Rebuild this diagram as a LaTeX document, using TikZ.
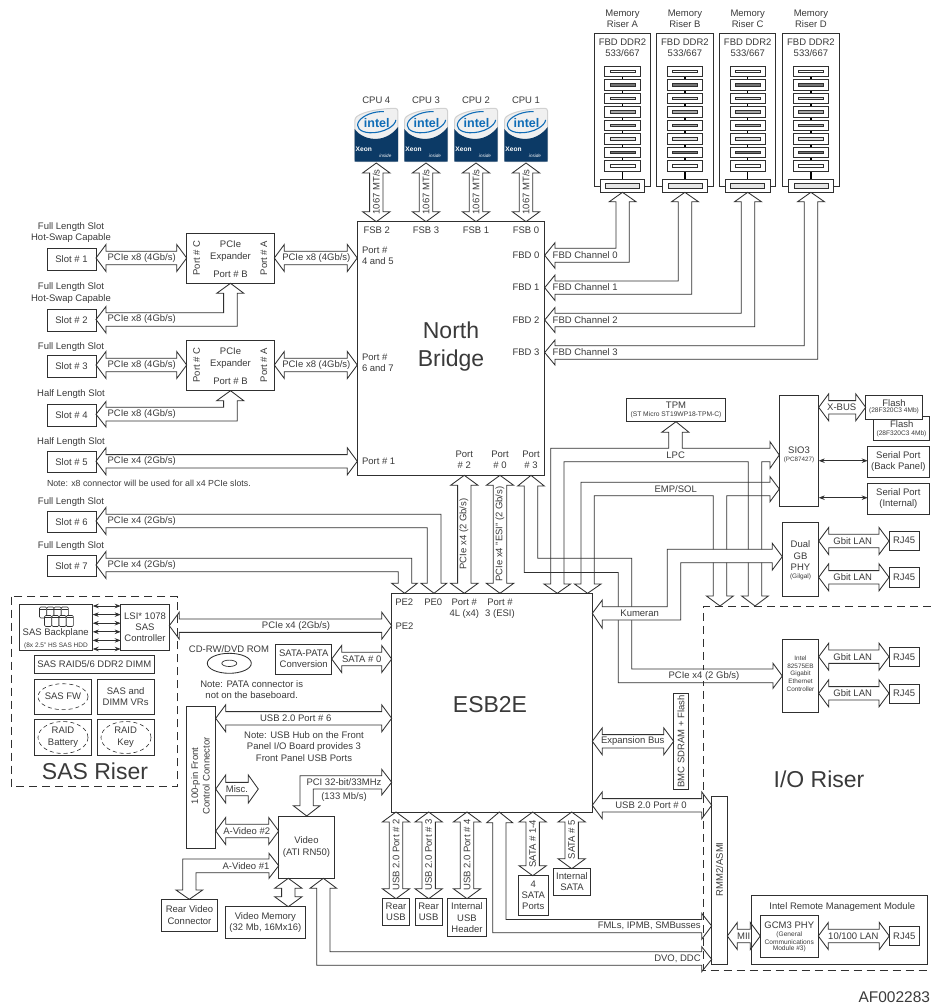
\documentclass[tikz,border=0pt]{standalone}
\usepackage{fontspec}
\setmainfont{Liberation Sans}
\usetikzlibrary{calc,arrows.meta}
\definecolor{lc}{HTML}{303030}
\definecolor{tc}{HTML}{3A3A3A}
\definecolor{xblue}{HTML}{0C3A66}
\definecolor{iblue}{HTML}{0F6CB6}
\newcommand\fs[1]{\fontsize{#1}{\dimexpr #1pt*6/5\relax}\selectfont}
\tikzset{
  x=1pt,y=-1pt,
  blk/.style={draw=lc,line width=.85pt,miter limit=4},
  box/.style={draw=lc,line width=.85pt,rectangle,inner sep=0,outer sep=0,align=center,text=tc,font=\fs{9.5}},
  tx/.style={inner sep=0,outer sep=0,align=center,text=tc,font=\fs{9.5}},
  thin2/.style={draw=lc,line width=.8pt,{Stealth[length=6pt,width=4.5pt]}-{Stealth[length=6pt,width=4.5pt]}},
  dash2/.style={draw=lc,line width=.95pt,dash pattern=on 8pt off 5pt},
  dash3/.style={draw=lc,line width=.6pt,dash pattern=on 4pt off 3pt},
  mod/.style={draw=lc,line width=.8pt,fill=white}
}
\newcounter{lb}
\newcommand\lbl[4][]{\stepcounter{lb}\node[tx,#1] (lb\thelb) at (#2,#3) {#4};}
\newcommand\bxn[6]{\pgfmathsetmacro\bcx{(#2+#4)/2}\pgfmathsetmacro\bcy{(#3+#5)/2}%
  \pgfmathsetmacro\bww{#4-#2}\pgfmathsetmacro\bhh{#5-#3}%
  \node[box,fill=white,minimum width=\bww pt,minimum height=\bhh pt] (#1) at (\bcx,\bcy) {#6};}
\newcommand\ArrH[3]{\draw[blk] let \p1=(#1|-0,#3),\p2=(#2|-0,#3) in (\p1) -- (\x1+10pt,\y1+13.5pt) -- (\x1+10pt,\y1+6.7pt) -- (\x2-10pt,\y1+6.7pt) -- (\x2-10pt,\y1+13.5pt) -- (\p2) -- (\x2-10pt,\y1-13.5pt) -- (\x2-10pt,\y1-6.7pt) -- (\x1+10pt,\y1-6.7pt) -- (\x1+10pt,\y1-13.5pt) -- cycle;}
\newcommand\ArrV[3]{\draw[blk] let \p1=(#3,0|-#1),\p2=(#3,0|-#2) in (\p1) -- (\x1+13.7pt,\y1-10pt) -- (\x1+6.7pt,\y1-10pt) -- (\x1+6.7pt,\y2+10pt) -- (\x1+13.7pt,\y2+10pt) -- (\p2) -- (\x1-13.7pt,\y2+10pt) -- (\x1-6.7pt,\y2+10pt) -- (\x1-6.7pt,\y1-10pt) -- (\x1-13.7pt,\y1-10pt) -- cycle;}
\newcommand\cpulogo[3]{%
  \pgfmathsetmacro\lc{#2}%
  \node[inner sep=0,outer sep=0,minimum width=43.4pt,minimum height=55pt] (#1) at (\lc,135.5) {};
  \fill[white!94!black,draw=black!18,line width=1pt,rounded corners=2.5pt] (\lc-21.5,161.5) -- (\lc-21.5,118) .. controls (\lc-12,111) and (\lc+5,108.5) .. (\lc+21.5,108.3) -- (\lc+21.5,161.5) -- cycle;
  \fill[xblue] (\lc-21.7,161.7) -- (\lc-21.7,129) .. controls (\lc-14,140) and (\lc+8,145) .. (\lc+21.7,127) -- (\lc+21.7,161.7) -- cycle;
  \draw[iblue,line width=1.1pt,rotate around={12:(\lc,124)}] (\lc+10,113.5) arc (-62:-350:19.5 and 10);
  \node[inner sep=0,text=iblue,font=\fontsize{12.5}{13}\selectfont\bfseries] (#1i) at (\lc+.5,123.5) {intel};
  \node[inner sep=0,text=white,font=\fontsize{6.6}{7}\selectfont\bfseries] (#1x) at (\lc-12.5,149) {Xeon};
  \node[inner sep=0,text=white,font=\fontsize{4.6}{5}\selectfont\itshape] (#1s) at (\lc+9,156) {inside};
  \lbl{\lc}{100}{CPU #3}
}
\begin{document}
\begin{tikzpicture}
\useasboundingbox (0,0) rectangle (931,1005);
% ===== main blocks
\bxn{NB}{357.3}{221.7}{544.7}{475.3}{}
\bxn{ESB}{391.7}{593.3}{592.3}{812}{}
% slots
\bxn{s1}{47}{248.3}{96}{270}{Slot \# 1}
\bxn{s2}{47}{309.3}{96}{331}{Slot \# 2}
\bxn{s3}{47}{355.3}{96}{377.3}{Slot \# 3}
\bxn{s4}{47}{404.7}{96}{426}{Slot \# 4}
\bxn{s5}{47}{451.7}{96}{472.7}{Slot \# 5}
\bxn{s6}{47}{511.3}{96}{532.7}{Slot \# 6}
\bxn{s7}{47}{555.7}{96}{576.7}{Slot \# 7}
\bxn{exa}{186.7}{233.3}{274.3}{283.3}{}
\bxn{exb}{186.7}{340.7}{274.3}{390.7}{}
% right column
\bxn{tpm}{626.7}{398.3}{725.3}{421.7}{}
\bxn{sio}{779.3}{395.7}{818.7}{506.7}{}
\bxn{flashb}{873.3}{416}{929}{440.7}{}
\bxn{flasha}{865.7}{395.7}{922.3}{419}{}
\bxn{serb}{867.7}{446}{929}{477.3}{Serial Port\\(Back Panel)}
\bxn{seri}{867.7}{483.3}{929}{514.3}{Serial Port\\(Internal)}
\bxn{dual}{782.3}{522.7}{818.7}{596}{}
\bxn{rja}{889}{531}{919.3}{550}{RJ45}
\bxn{rjb}{889}{567.7}{919.3}{587.7}{RJ45}
\bxn{intel}{782.3}{639}{818.7}{712.3}{}
\bxn{rjc}{889}{647.7}{919.3}{666}{RJ45}
\bxn{rjd}{889}{684}{919.3}{703.3}{RJ45}
\bxn{bmc}{673.7}{693.3}{688.3}{789.3}{}
\bxn{rmm}{711.7}{796.7}{727.3}{964.3}{}
\bxn{irmm}{751.7}{895}{927.7}{964.3}{}
\bxn{gcm}{760.3}{915.7}{818.3}{957.7}{}
\bxn{rje}{889.3}{926.7}{919.3}{945}{RJ45}
% bottom
\bxn{sata4}{518.3}{875.7}{548.3}{915}{4\\SATA\\Ports}
\bxn{satai}{553.3}{868.7}{590.7}{895}{Internal\\SATA}
\bxn{rua}{382.7}{898.7}{409.3}{925.3}{Rear\\USB}
\bxn{rub}{415}{898.7}{442.3}{925.3}{Rear\\USB}
\bxn{ruh}{447.3}{898.7}{486.7}{936.7}{Internal\\USB\\Header}
\bxn{video}{278.7}{816}{334.3}{878.3}{Video\\(ATI RN50)}
\bxn{fpc}{186.7}{706}{215.7}{848.3}{}
\bxn{rvc}{161.7}{899.3}{217.3}{931}{Rear Video\\Connector}
\bxn{vmem}{225}{906.7}{305.7}{938.7}{Video Memory\\(32 Mb, 16Mx16)}
% SAS riser
\bxn{back}{19}{604.3}{92.7}{650}{}
\bxn{lsi}{120.7}{604.3}{169.3}{650}{LSI* 1078\\SAS\\Controller}
\bxn{raid}{34.3}{655}{154.3}{673.3}{SAS RAID5/6 DDR2 DIMM}
\bxn{sasfw}{34.3}{679}{91.7}{714.3}{SAS FW}
\bxn{vrs}{97}{679}{154.3}{714.3}{SAS and\\DIMM VRs}
\bxn{batt}{34.3}{719.7}{91.7}{755}{RAID\\Battery}
\bxn{rkey}{97}{719.7}{154.3}{755}{RAID\\Key}
\bxn{satap}{275.7}{644}{331.7}{674}{SATA-PATA\\Conversion}
\draw[dash3] (63,696.7) ellipse (25 and 13);
\draw[dash3] (63,737.5) ellipse (25 and 16);
\draw[dash3] (126,737.5) ellipse (25 and 16);
\draw[dash2] (11,596.7) rectangle (177.7,786.7);
\draw[dash2] (931,606) -- (703.8,606) -- (703.8,970) -- (931,970);
% disc
\draw[draw=lc,line width=.85pt] (229.3,663.3) ellipse (22 and 10);
\draw[draw=lc,line width=.7pt] (229.3,663.3) ellipse (7.5 and 3.2);
% HDD icon
\foreach \xx/\yy in {39.5/607,46.8/607,54/607,61.2/607,44.5/615.5,51.8/615.5,59/615.5,66.2/615.5}{
  \draw[draw=lc,line width=.6pt,fill=white,rounded corners=1.2pt] (\xx,\yy) rectangle ++(7.2,11);
  \draw[draw=lc,line width=.5pt] (\xx+.3,\yy+1.8) -- ++(6.6,0);
}
% memory risers
\foreach \cx/\rn/\rl in {622.5/A/A,684.9/B/B,747.7/C/C,810.9/D/D}{
  \pgfmathsetmacro\xa{\cx-28.2}\pgfmathsetmacro\xb{\cx+28.2}
  \bxn{ris\rn}{\xa}{33.3}{\xb}{186}{}
  \lbl{\cx}{19}{Memory\\Riser \rl}
  \lbl{\cx}{48}{FBD DDR2\\533/667}
  \draw[draw=black,line width=1.4pt] (\cx,70) -- (\cx,179);
  \foreach \i/\gc in {0/white,1/black!55,2/black!12,3/black!35,4/black!35,5/black!12,6/black!55,7/white}{
    \pgfmathsetmacro\my{71.3+13.5*\i}
    \draw[mod] (\cx-17.7,\my-5.3) rectangle (\cx+17.7,\my+5.3);
    \draw[draw=lc,line width=.8pt,fill=\gc] (\cx-12.5,\my-1.4) rectangle (\cx+12.5,\my+1.4);
  }
  \pgfmathsetmacro\xc{\cx-22.3}\pgfmathsetmacro\xd{\cx+22.3}
  \bxn{con\rn}{\xc}{179}{\xd}{192.3}{}
  \draw[draw=lc,line width=.8pt,fill=black!10] (\cx-17,183) rectangle (\cx+17,188.3);
}
% CPUs
\cpulogo{cpuD}{376.3}{4}
\cpulogo{cpuC}{426}{3}
\cpulogo{cpuB}{476}{2}
\cpulogo{cpuA}{526}{1}
% ===== arrows
\ArrV{cpuD.south}{NB.north}{376.3}
\ArrV{cpuC.south}{NB.north}{426}
\ArrV{cpuB.south}{NB.north}{476}
\ArrV{cpuA.south}{NB.north}{526}
\ArrH{s1.east}{exa.west}{258}
\ArrH{exa.east}{NB.west}{258}
\ArrH{s3.east}{exb.west}{365}
\ArrH{exb.east}{NB.west}{365}
\ArrH{s5.east}{NB.west}{461.3}
\draw[blk] (s2.east|-0,319.5) -- (106,306.5) -- (106,312.7) -- (223.6,312.7) -- (223.6,293.3) -- (216.7,293.3) -- (exa.south) -- (243.8,293.3) -- (237.3,293.3) -- (237.3,326.3) -- (106,326.3) -- (106,333) -- cycle;
\draw[blk] (s4.east|-0,414.3) -- (106,401.5) -- (106,407.3) -- (223.6,407.3) -- (223.6,400.7) -- (216.7,400.7) -- (exb.south) -- (243.8,400.7) -- (237.3,400.7) -- (237.3,421) -- (106,421) -- (106,427) -- cycle;
\draw[blk] (s6.east|-0,521) -- (106,507.5) -- (106,514.3) -- (441,514.3) -- (441,583.3) -- (446.7,583.3) -- (434,0|-ESB.north) -- (421,583.3) -- (427.3,583.3) -- (427.3,527.7) -- (106,527.7) -- (106,534.5) -- cycle;
\draw[blk] (s7.east|-0,565) -- (106,551.5) -- (106,558.3) -- (411.7,558.3) -- (411.7,583.3) -- (417.3,583.3) -- (404.6,0|-ESB.north) -- (391.7,583.3) -- (398.3,583.3) -- (398.3,571.7) -- (106,571.7) -- (106,578.5) -- cycle;
% NB - ESB
\ArrV{NB.south}{ESB.north}{464.3}
\ArrV{NB.south}{ESB.north}{500}
% FBD channels
\draw[blk] (NB.east|-0,255.3) -- (555,242.7) -- (555,248.3) -- (616,248.3) -- (616,201.7) -- (609.3,201.7) -- (conA.south) -- (636,201.7) -- (629.3,201.7) -- (629.3,262.3) -- (555,262.3) -- (555,268.3) -- cycle;
\draw[blk] (NB.east|-0,287.7) -- (555,275) -- (555,281) -- (678.3,281) -- (678.3,201.7) -- (671.6,201.7) -- (conB.south) -- (698.4,201.7) -- (691.7,201.7) -- (691.7,294.3) -- (555,294.3) -- (555,300.5) -- cycle;
\draw[blk] (NB.east|-0,320) -- (555,307.5) -- (555,313.3) -- (741.3,313.3) -- (741.3,201.7) -- (734.6,201.7) -- (conC.south) -- (761.4,201.7) -- (754.7,201.7) -- (754.7,326.7) -- (555,326.7) -- (555,332.5) -- cycle;
\draw[blk] (NB.east|-0,352.5) -- (555,340) -- (555,345.7) -- (804.3,345.7) -- (804.3,201.7) -- (797.6,201.7) -- (conD.south) -- (824.4,201.7) -- (817.7,201.7) -- (817.7,359.3) -- (555,359.3) -- (555,365) -- cycle;
% LPC
\draw[blk] (tpm.south) -- (689,432.3) -- (682.3,432.3) -- (682.3,448.3) -- (770,448.3) -- (770,441.7) -- (sio.west|-0,455) -- (770,468.3) -- (770,461.7) -- (761.7,461.7) -- (761.7,596) -- (768.3,596) -- (755,606) -- (741.7,596) -- (748.3,596) -- (748.3,461.7) -- (564,461.7) -- (564,584) -- (570.5,584) -- (557.3,0|-ESB.north) -- (544,584) -- (550.7,584) -- (550.7,448.3) -- (668.7,448.3) -- (668.7,432.3) -- (661.7,432.3) -- cycle;
% EMP/SOL
\draw[blk] (581,482.3) -- (770,482.3) -- (770,476.7) -- (sio.west|-0,489) -- (770,501.7) -- (770,495.7) -- (726.7,495.7) -- (726.7,596) -- (733.3,596) -- (720,606) -- (706.5,596) -- (713.3,596) -- (713.3,495.7) -- (594.3,495.7) -- (594.3,584) -- (601,584) -- (587.6,0|-ESB.north) -- (574.5,584) -- (581,584) -- cycle;
% Port 3 / PCIe x4 to Intel
\draw[blk] (531,0|-NB.south) -- (544.3,486) -- (537.7,486) -- (537.7,558.3) -- (631.7,558.3) -- (631.7,669) -- (773,669) -- (773,663.3) -- (intel.west|-0,676) -- (773,688.3) -- (773,682.7) -- (618.3,682.7) -- (618.3,572.5) -- (524.3,572.5) -- (524.3,486) -- (517.7,486) -- cycle;
% Kumeran
\draw[blk,fill=white] (ESB.east|-0,613.3) -- (602.3,600) -- (602.3,606.7) -- (667.3,606.7) -- (667.3,549.3) -- (772.3,549.3) -- (772.3,543.3) -- (dual.west|-0,556.7) -- (772.3,570) -- (772.3,562.7) -- (680.7,562.7) -- (680.7,620) -- (602.3,620) -- (602.3,628.3) -- cycle;
% LAN
\ArrH{dual.east}{rja.west}{541}
\ArrH{dual.east}{rjb.west}{577.3}
\ArrH{intel.east}{rjc.west}{656.7}
\ArrH{intel.east}{rjd.west}{693.3}
\ArrH{sio.east}{flasha.west}{407.3}
\draw[thin2] (sio.east|-0,460.7) -- (serb.west|-0,460.7);
\draw[thin2] (sio.east|-0,497.7) -- (seri.west|-0,497.7);
% ESB right side
\ArrH{ESB.east}{bmc.west}{741.3}
\ArrH{ESB.east}{rmm.west}{805.3}
\draw[blk] (499.3,0|-ESB.south) -- (512.7,822.7) -- (506,822.7) -- (506,919.5) -- (701.7,919.5) -- (701.7,913.3) -- (rmm.west|-0,926) -- (701.7,939.3) -- (701.7,932.8) -- (492.7,932.8) -- (492.7,822.7) -- (486.7,822.7) -- cycle;
\draw[blk] (323.3,0|-video.south) -- (336.7,888.3) -- (330,888.3) -- (330,951.7) -- (701.7,951.7) -- (701.7,946.7) -- (rmm.west|-0,959.3) -- (701.7,971.7) -- (701.7,965.3) -- (316.7,965.3) -- (316.7,888.3) -- (310,888.3) -- cycle;
\ArrH{rmm.east}{gcm.west}{936}
\ArrH{gcm.east}{rje.west}{936}
% ESB bottom
\ArrV{ESB.south}{rua.north}{396}
\ArrV{ESB.south}{rub.north}{428.7}
\ArrV{ESB.south}{ruh.north}{467}
\ArrV{ESB.south}{sata4.north}{532.7}
\ArrV{ESB.south}{satai.north}{571.7}
% ESB left side
\ArrH{lsi.east}{ESB.west}{625.7}
\ArrH{satap.east}{ESB.west}{659}
\ArrH{fpc.east}{ESB.west}{718.3}
\ArrH{fpc.east}{video.west}{831}
\draw[blk] (fpc.east|-0,789) -- (225.7,775) -- (225.7,782.4) -- (248.3,782.4) -- (248.3,775) -- (258.3,789) -- (248.3,803) -- (248.3,795.8) -- (225.7,795.8) -- (225.7,803) -- cycle;
\draw[blk] (ESB.west|-0,782.3) -- (381.7,769.3) -- (381.7,775.7) -- (300,775.7) -- (300,805.7) -- (293.3,805.7) -- (306.7,0|-video.north) -- (320,805.7) -- (313.3,805.7) -- (313.3,789) -- (381.7,789) -- (381.7,795) -- cycle;
\draw[blk] (video.west|-0,865.7) -- (269,853.3) -- (269,859) -- (182.7,859) -- (182.7,890) -- (176,890) -- (189.3,0|-rvc.north) -- (202.7,890) -- (196,890) -- (196,872.7) -- (269,872.7) -- (269,878.3) -- cycle;
\ArrV{video.south}{vmem.north}{288.3}
\foreach \yy in {606,614.6,623.2,631.8,640.4,649}{\draw[thin2] (back.east|-0,\yy) -- (lsi.west|-0,\yy);}
% ===== labels
\lbl{71}{226.7}{Full Length Slot}
\lbl{71}{238.3}{Hot-Swap Capable}
\lbl{71}{287.3}{Full Length Slot}
\lbl{71}{298.6}{Hot-Swap Capable}
\lbl{71}{346.7}{Full Length Slot}
\lbl{71}{394.3}{Half Length Slot}
\lbl{71}{442.3}{Half Length Slot}
\lbl{71}{502.3}{Full Length Slot}
\lbl{71}{546}{Full Length Slot}
\lbl[anchor=west,font=\fs{8.8}]{47}{483.3}{Note: x8 connector will be used for all x4 PCIe slots.}
\foreach \za/\zb/\zc/\zd in {244.3/256.7/274/258,351.7/363.8/381.2/365}{
  \lbl{230.5}{\za}{PCIe}
  \lbl{230.5}{\zb}{Expander}
  \lbl{230.5}{\zc}{Port \# B}
  \lbl[rotate=90]{196.7}{\zd}{Port \# C}
  \lbl[rotate=90]{264}{\zd}{Port \# A}
}
\foreach \yy in {258,319.5,365,414.3}{\lbl{141.7}{\yy}{PCIe x8 (4Gb/s)}}
\lbl{316.3}{258}{PCIe x8 (4Gb/s)}
\lbl{316.3}{365}{PCIe x8 (4Gb/s)}
\foreach \yy in {461,521,565}{\lbl{141.7}{\yy}{PCIe x4 (2Gb/s)}}
% NB labels
\lbl{376.7}{230}{FSB 2}
\lbl{426}{230}{FSB 3}
\lbl{476}{230}{FSB 1}
\lbl{526}{230}{FSB 0}
\foreach \xx in {376.3,426,476,526}{\lbl[rotate=90]{\xx}{192}{1067 MT/s}}
\lbl[anchor=north west,align=left]{362}{247}{Port \#\\4 and 5}
\lbl[anchor=north west,align=left]{362}{353.5}{Port \#\\6 and 7}
\lbl[anchor=west]{362}{461}{Port \# 1}
\foreach \yy/\nn in {255/0,287.5/1,320/2,352.5/3}{
  \lbl[anchor=east]{539.5}{\yy}{FBD \nn}
  \lbl[anchor=west]{552.7}{\yy}{FBD Channel \nn}
}
\lbl[font=\fs{23}]{451}{330}{North}
\lbl[font=\fs{23}]{451}{361}{Bridge}
\lbl{464.3}{459.5}{Port\\\# 2}
\lbl{500}{459.5}{Port\\\# 0}
\lbl{531}{459.5}{Port\\\# 3}
\lbl[rotate=90]{464}{534}{PCIe x4 (2 Gb/s)}
\lbl[rotate=90]{500}{534}{PCIe x4 "ESI" (2 Gb/s)}
% ESB labels
\lbl{404.3}{602.5}{PE2}
\lbl{433.3}{602.5}{PE0}
\lbl{464.3}{608.5}{Port \#\\4L (x4)}
\lbl{500}{608.5}{Port \#\\3 (ESI)}
\lbl[anchor=west]{395.5}{625.7}{PE2}
\lbl[font=\fs{23}]{490}{705}{ESB2E}
% right side labels
\lbl{676}{405.7}{TPM}
\lbl[font=\fs{6.7}]{676}{414.3}{(ST Micro ST19WP18-TPM-C)}
\lbl{799}{450.7}{SIO3}
\lbl[font=\fs{6.3}]{799}{460}{(PC87427)}
\lbl{841.7}{407.3}{X-BUS}
\lbl{894}{403.3}{Flash}
\lbl[font=\fs{6.6}]{894}{411.2}{(28F320C3 4Mb)}
\lbl{901.7}{424.3}{Flash}
\lbl[font=\fs{6.6}]{901.5}{434}{(28F320C3 4Mb)}
\lbl{675.7}{455.5}{LPC}
\lbl{675.7}{489.3}{EMP/SOL}
\lbl{639.7}{613.3}{Kumeran}
\lbl[fill=white,inner sep=1pt]{704}{675.7}{PCIe x4 (2 Gb/s)}
\lbl{800.5}{544}{Dual}
\lbl{800.5}{556}{GB}
\lbl{800.5}{567.3}{PHY}
\lbl[font=\fs{6.5}]{800.5}{576.7}{(Gilgal)}
\lbl[font=\fs{6.4}]{800.5}{658.3}{Intel}
\lbl[font=\fs{6.4}]{800.5}{666.3}{82575EB}
\lbl[font=\fs{6.4}]{800.5}{674}{Gigabit}
\lbl[font=\fs{6.4}]{800.5}{681}{Ethernet}
\lbl[font=\fs{6.4}]{800.5}{689}{Controller}
\foreach \yy in {541,577.3,656.7,693.3}{\lbl{852.7}{\yy}{Gbit LAN}}
\lbl[rotate=90]{681}{741.3}{BMC SDRAM + Flash}
\lbl{632.7}{741.3}{Expansion Bus}
\lbl{651}{805.3}{USB 2.0 Port \# 0}
\lbl[rotate=90]{719.5}{869.3}{RMM2/ASMI}
\lbl[anchor=east]{700.7}{926}{FMLs, IPMB, SMBusses}
\lbl[anchor=east]{700.7}{959}{DVO, DDC}
\lbl{743.7}{936}{MII}
\lbl{842.3}{906.7}{Intel Remote Management Module}
\lbl{789.3}{925.7}{GCM3 PHY}
\lbl[font=\fs{6.6}]{789.3}{934.5}{(General}
\lbl[font=\fs{6.6}]{789.3}{942}{Communications}
\lbl[font=\fs{6.6}]{789.3}{949}{Module \#3)}
\lbl{853.3}{936}{10/100 LAN}
\lbl[font=\fs{23}]{819}{779.3}{I/O Riser}
\lbl[font=\fs{15.5}]{894.3}{996.7}{AF002283}
% bottom labels
\lbl[rotate=90]{396}{855}{USB 2.0 Port \# 2}
\lbl[rotate=90]{428.7}{855}{USB 2.0 Port \# 3}
\lbl[rotate=90]{467}{855}{USB 2.0 Port \# 4}
\lbl[rotate=90]{532.7}{844}{SATA \# 1-4}
\lbl[rotate=90]{571.7}{839.5}{SATA \# 5}
% left labels
\lbl{55.7}{633.3}{SAS Backplane}
\lbl[font=\fs{6.5}]{56}{646}{(8x 2.5" HS SAS HDD}
\lbl[font=\fs{23}]{95}{771.7}{SAS Riser}
\lbl{229}{649}{CD-RW/DVD ROM}
\lbl{251.7}{689.5}{Note: PATA connector is\\not on the baseboard.}
\lbl{361.7}{659}{SATA \# 0}
\lbl{296}{625.7}{PCIe x4 (2Gb/s)}
\lbl{295.7}{718.3}{USB 2.0 Port \# 6}
\lbl{304}{746.5}{Note: USB Hub on the Front\\Panel I/O Board provides 3\\Front Panel USB Ports}
\lbl[rotate=90]{200.5}{776}{100-pin Front\\Control Connector}
\lbl{237}{789}{Misc.}
\lbl{246.7}{831}{A-Video \#2}
\lbl{246}{865.7}{A-Video \#1}
\lbl{344}{782.3}{PCI 32-bit/33MHz}
\lbl{344}{797.3}{(133 Mb/s)}
\end{tikzpicture}
\end{document}
